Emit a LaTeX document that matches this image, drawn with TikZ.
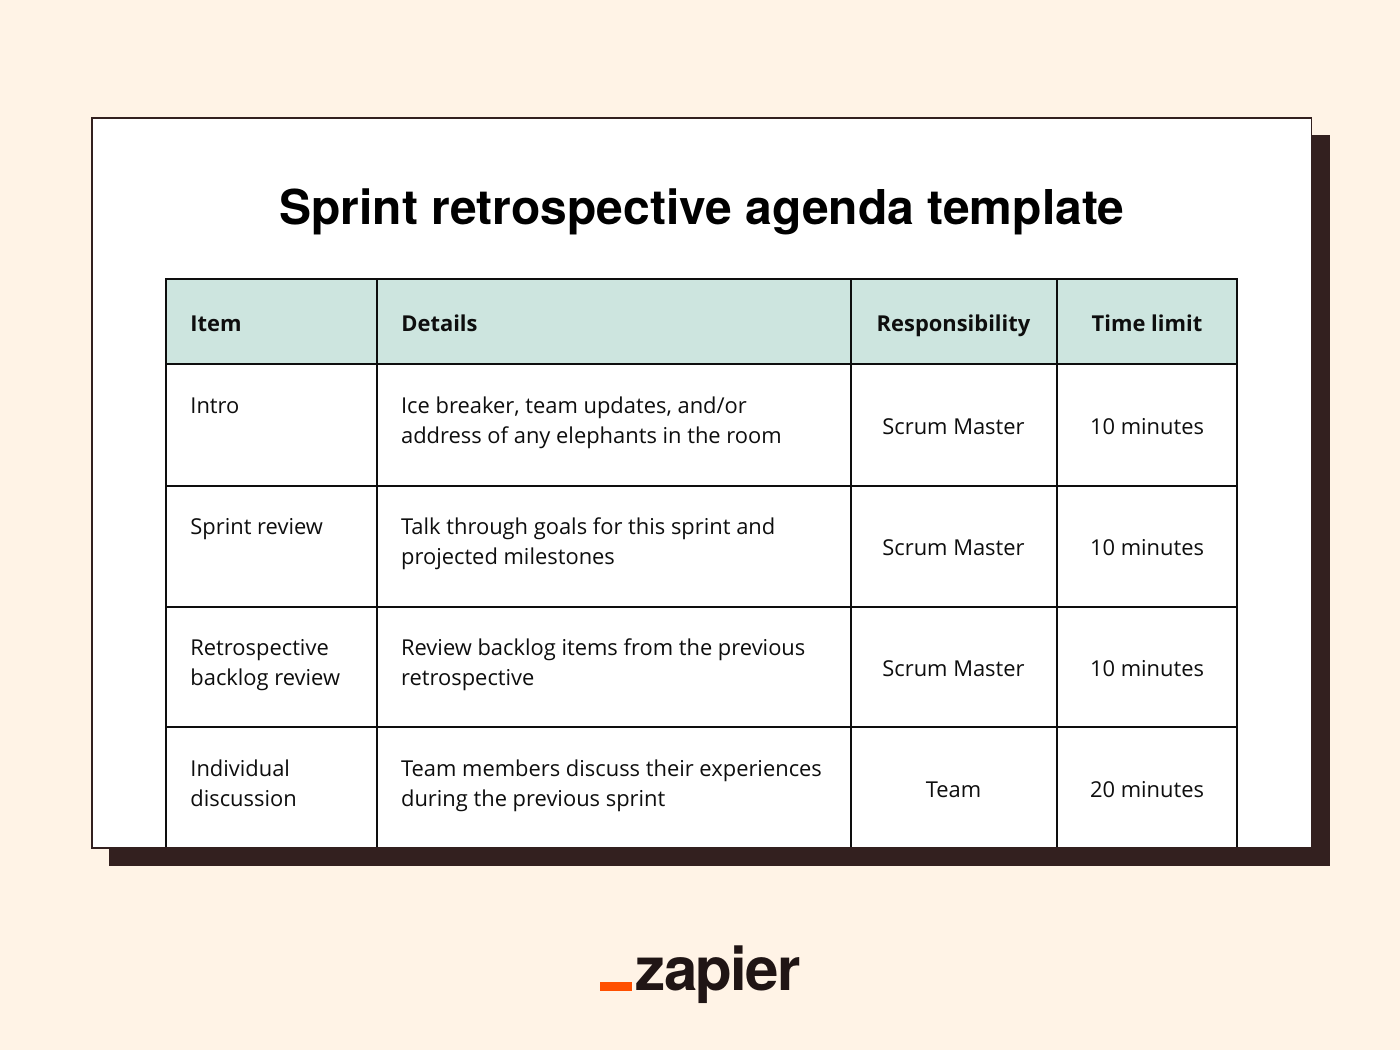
\documentclass[tikz,border=0pt]{standalone}
\usepackage{fontspec}
\setmainfont{Open Sans}
\newfontfamily\titlefont{TeX Gyre Heros}
\newfontfamily\logofont[LetterSpace=-3]{TeX Gyre Heros}
\usetikzlibrary{fit}
\definecolor{bgcream}{HTML}{FFF3E6}
\definecolor{darkbrown}{HTML}{33201F}
\definecolor{headteal}{HTML}{CDE5DF}
\definecolor{zaporange}{HTML}{FF4F00}
\definecolor{inkblack}{HTML}{0E0E0E}
\definecolor{logoblack}{HTML}{201515}
\tikzset{
  x=0.5pt,y=-0.5pt,
  cellbox/.style={draw=inkblack,line width=1pt,inner sep=0pt,outer sep=0pt},
  body/.style={font=\fontsize{10.95pt}{15pt}\selectfont,text=inkblack,inner sep=0pt,align=left},
  bodyc/.style={body,align=center,anchor=base},
  head/.style={font=\fontsize{10.95pt}{15pt}\selectfont\bfseries,text=inkblack,inner sep=0pt},
}
\begin{document}
\begin{tikzpicture}
\useasboundingbox (0,0) rectangle (1400,1050);
\fill[bgcream] (0,0) rectangle (1400,1050);
\fill[darkbrown] (109,135) rectangle (1330,866);
\draw[fill=white,draw=darkbrown,line width=0.6pt] (92,118) rectangle (1311.5,848);
\node[font=\titlefont\bfseries\fontsize{24pt}{28pt}\selectfont,text=black,inner sep=0pt,anchor=base] (title) at (702,224.5) {Sprint retrospective agenda template};
% header cells
\fill[headteal] (165.5,279) rectangle (1236.5,364);
\foreach \nm/\xa/\ya/\xb/\yb in {
 h1/165.5/278.5/376.5/364,h2/376.5/278.5/850.5/364,h3/850.5/278.5/1057/364,h4/1057/278.5/1236.5/364,
 a1/165.5/364/376.5/485.5,a2/376.5/364/850.5/485.5,a3/850.5/364/1057/485.5,a4/1057/364/1236.5/485.5,
 b1/165.5/485.5/376.5/607,b2/376.5/485.5/850.5/607,b3/850.5/485.5/1057/607,b4/1057/485.5/1236.5/607,
 c1/165.5/607/376.5/726.5,c2/376.5/607/850.5/726.5,c3/850.5/607/1057/726.5,c4/1057/607/1236.5/726.5}
  {\node[cellbox,fit={(\xa,\ya)(\xb,\yb)}] (\nm) {};}
\foreach \xa in {165.5,376.5,850.5,1057,1236.5}
  {\draw[draw=inkblack,line width=1pt] (\xa,726.5) -- (\xa,847);}
% header text
\node[head,anchor=base west] (th1) at (190,331.5) {Item};
\node[head,anchor=base west] (th2) at (401,331.5) {Details};
\node[head,anchor=base] (th3) at (953.5,331.5) {Responsibility};
\node[head,anchor=base] (th4) at (1147,331.5) {Time limit};
% column 1
\node[body,anchor=base west] (t1) at (190,413.3) {Intro};
\node[body,anchor=base west] (t2) at (190,534.3) {Sprint review};
\node[body,anchor=base west] (t3) at (190,685.3) {Retrospective\\backlog review};
\node[body,anchor=base west] (t4) at (190,806.3) {Individual\\discussion};
% column 2
\node[body,anchor=base west] (u1) at (400.7,443.3) {Ice breaker, team updates, and/or\\address of any elephants in the room};
\node[body,anchor=base west] (u2) at (400.7,564.3) {Talk through goals for this sprint and\\projected milestones};
\node[body,anchor=base west] (u3) at (400.7,685.3) {Review backlog items from the previous\\retrospective};
\node[body,anchor=base west] (u4) at (400.7,806.3) {Team members discuss their experiences\\during the previous sprint};
% column 3
\node[bodyc] (v1) at (953.5,434.4) {Scrum Master};
\node[bodyc] (v2) at (953.5,555.4) {Scrum Master};
\node[bodyc] (v3) at (953.5,676.4) {Scrum Master};
\node[bodyc] (v4) at (953.5,797.4) {Team};
% column 4
\node[bodyc] (w1) at (1147,434.4) {10 minutes};
\node[bodyc] (w2) at (1147,555.4) {10 minutes};
\node[bodyc] (w3) at (1147,676.4) {10 minutes};
\node[bodyc] (w4) at (1147,797.4) {20 minutes};
% logo
\fill[zaporange] (600,982) rectangle (632,990.5);
\node[font=\logofont\bfseries\fontsize{30pt}{34pt}\selectfont,text=logoblack,inner sep=0pt,anchor=base west] (logo) at (635.5,990) {zapier};
\end{tikzpicture}
\end{document}
